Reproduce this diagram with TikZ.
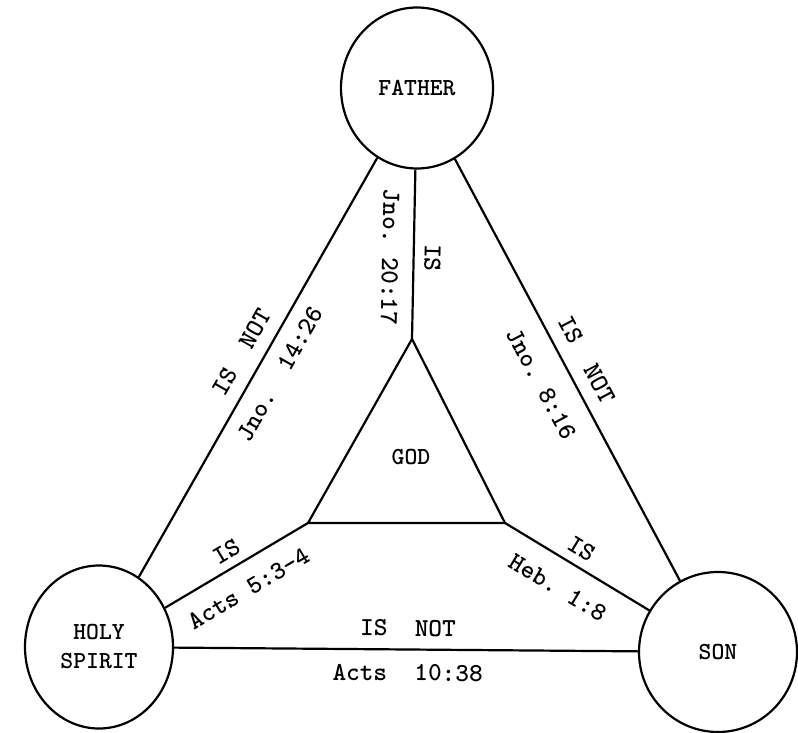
\documentclass[tikz,border=0pt]{standalone}
\usepackage{tikz}
\usetikzlibrary{shapes.geometric}
\usetikzlibrary{positioning}
\newcommand\nmfont{\fontsize{24.5}{29}\selectfont\ttfamily\bfseries}
\newcommand\lbfont{\fontsize{26}{30}\selectfont\ttfamily\bfseries}
\begin{document}
\begin{tikzpicture}[x=1pt,y=-1pt,line width=2.2pt,
  person/.style={ellipse,draw,minimum width=152pt,minimum height=161pt,inner sep=0pt,align=center,font=\nmfont},
  tag/.style={font=\lbfont,inner sep=0pt,sloped}]
\useasboundingbox (0,0) rectangle (798,733);
\node [person](father) at (417,88){FATHER};
\node [person,minimum width=148pt,minimum height=163pt](spirit) at (99,647){HOLY\\SPIRIT};
\node [person,minimum width=158pt,minimum height=160pt](son) at (718,652){SON};
\coordinate (gtop) at (412,339);
\coordinate (gleft) at (308,523);
\coordinate (gright) at (505,523);
\node [font=\nmfont](god) at (411,457){GOD};
\draw (gtop) -- (gleft) -- (gright) -- cycle;

\path[solid,-](father)edge node[pos=0.52,tag,allow upside down,above=9.5pt]{IS} node[pos=0.52,tag,allow upside down,below=14pt]{Jno.~20:17} (gtop);
\path[solid,-](spirit)edge node[pos=0.51,tag,above=12.6pt]{IS~~NOT} node[pos=0.51,tag,below=12.6pt]{Jno.~~14:26} (father);
\path[solid,-](father)edge node[pos=0.5,tag,above=12.4pt]{IS~~NOT} node[pos=0.5,tag,below=20.5pt]{Jno.~8:16} (son);
\path[solid,-](spirit)edge node[pos=0.49,tag,above=8pt]{IS} node[pos=0.49,tag,below=17pt]{Acts~5:3-4} (gleft);
\path[solid,-](gright)edge node[pos=0.466,tag,above=8.6pt]{IS} node[pos=0.466,tag,below=18.6pt]{Heb.~1:8} (son);
\path[solid,-](spirit)edge node[pos=0.504,tag,above=12pt]{IS~~NOT} node[pos=0.504,tag,below=14pt]{Acts~~10:38} (son);
\end{tikzpicture}
\end{document}
